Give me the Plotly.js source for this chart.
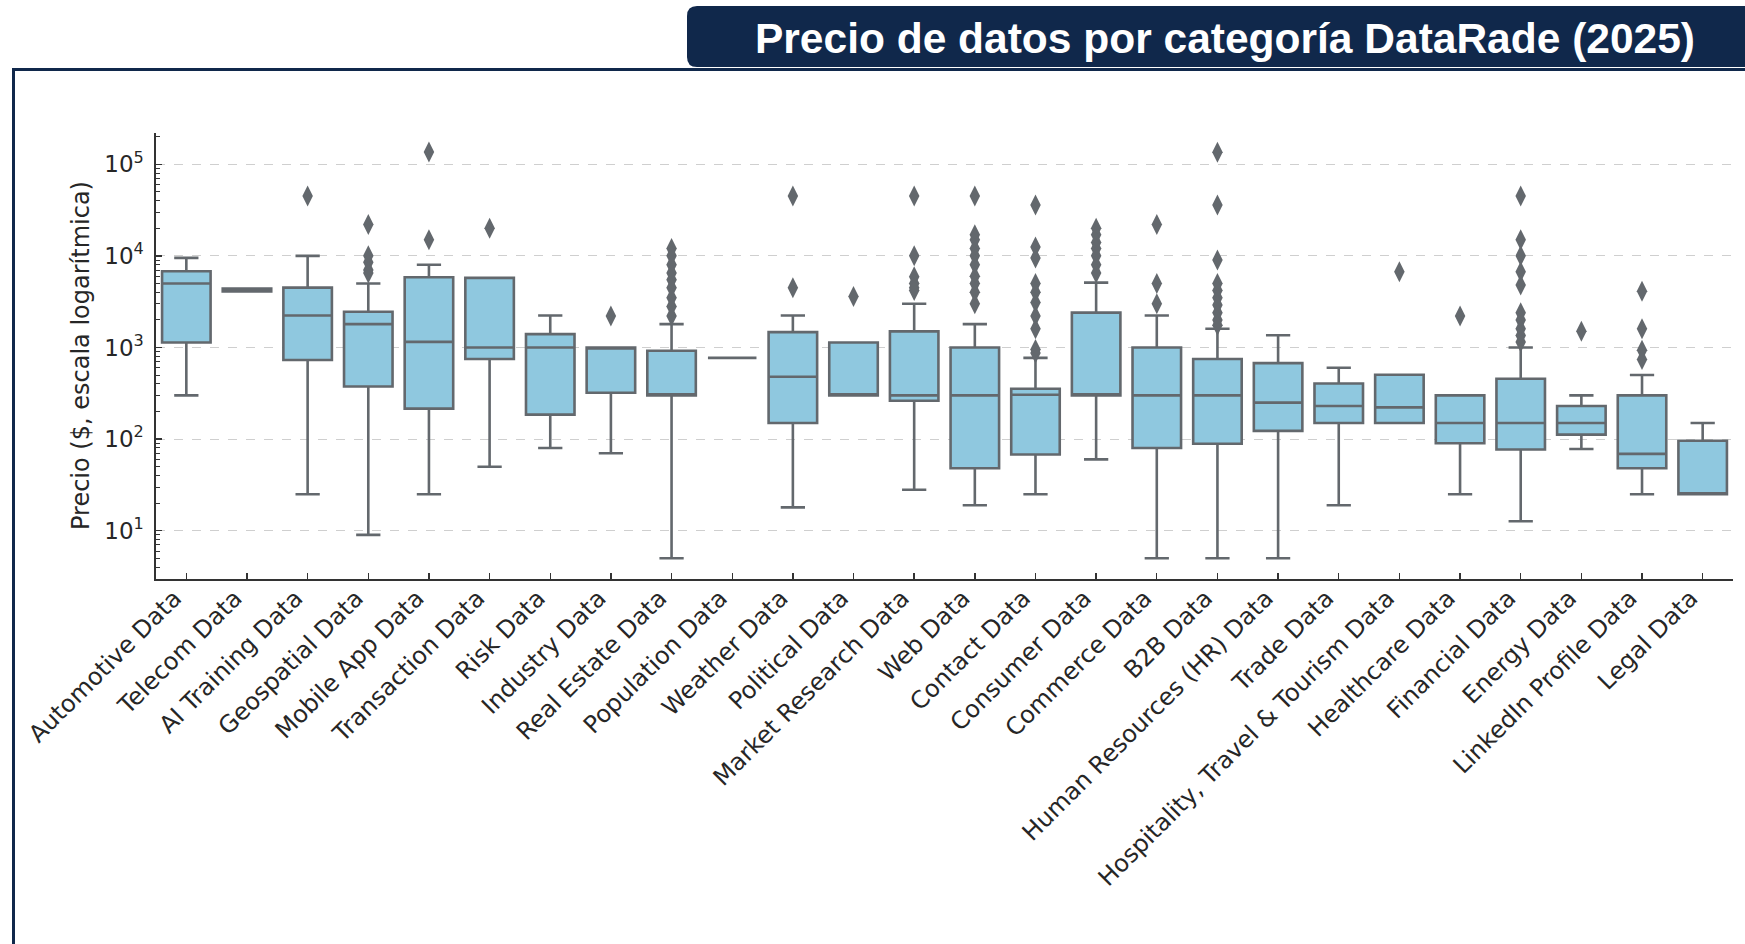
<!DOCTYPE html>
<html>
<head>
<meta charset="utf-8">
<script src="https://cdn.plot.ly/plotly-3.0.1.min.js"></script>
<style>
html, body { margin: 0; padding: 0; background: #ffffff; }
#chart { width: 1745px; height: 944px; }
</style>
</head>
<body>
<div id="chart"></div>
<script>
// ---- Data ----
const categories = [
  "Automotive Data", "Telecom Data", "AI Training Data", "Geospatial Data",
  "Mobile App Data", "Transaction Data", "Risk Data", "Industry Data",
  "Real Estate Data", "Population Data", "Weather Data", "Political Data",
  "Market Research Data", "Web Data", "Contact Data", "Consumer Data",
  "Commerce Data", "B2B Data", "Human Resources (HR) Data", "Trade Data",
  "Hospitality, Travel & Tourism Data", "Healthcare Data", "Financial Data",
  "Energy Data", "LinkedIn Profile Data", "Legal Data"
];
const lowerWhisker = [300, 4100, 25, 9, 25, 50, 80, 70, 5, 770, 18, 300, 28, 19, 25, 60, 5, 5, 5, 19, 150, 25, 12.7, 78, 25, 25];
const q1Values     = [1135, 4100, 730, 375, 215, 750, 185, 320, 300, 770, 150, 300, 262, 48, 68, 300, 80, 89, 123, 150, 150, 90, 77, 112, 48, 25];
const medianValues = [5000, 4250, 2230, 1800, 1150, 1000, 1000, 1000, 300, 770, 480, 300, 300, 300, 305, 300, 300, 300, 250, 230, 222, 150, 150, 150, 69, 25];
const q3Values     = [6800, 4400, 4500, 2450, 5850, 5750, 1400, 1000, 920, 770, 1470, 1135, 1500, 1000, 355, 2400, 1000, 750, 675, 405, 503, 300, 455, 230, 300, 96];
const upperWhisker = [9500, 4400, 10000, 5000, 8000, 5750, 2230, 1000, 1800, 770, 2230, 1135, 3000, 1800, 770, 5100, 2230, 1600, 1360, 600, 503, 300, 1000, 300, 500, 150];
const outlierValues = [
  [],
  [],
  [45000],
  [22000, 10000, 8500, 7000, 6500],
  [136000, 15000],
  [20000],
  [],
  [2200],
  [12000, 10000, 8000, 6500, 5500, 4500, 3500, 2800, 2200],
  [],
  [45000, 4500],
  [3600],
  [45000, 10000, 5900, 5000, 4500, 4200],
  [45000, 17000, 15000, 12000, 10000, 8000, 6000, 5000, 4000, 3000],
  [36000, 12500, 9500, 5000, 4000, 3100, 2200, 1600, 950, 870],
  [20000, 17000, 14000, 12000, 10000, 8000, 6500],
  [22000, 5000, 3000],
  [135000, 36000, 9000, 5000, 4200, 3500, 2900, 2400, 2000, 1750],
  [],
  [],
  [6700],
  [2200],
  [45000, 15000, 10000, 6700, 4800, 2400, 2000, 1600, 1350, 1150],
  [1500],
  [4100, 1600, 930, 740],
  []
];
const yTickValues = [10, 100, 1000, 10000, 100000];
const yTickLabels = ["10<sup>1</sup>", "10<sup>2</sup>", "10<sup>3</sup>", "10<sup>4</sup>", "10<sup>5</sup>"];
const chartTitle = "Precio de datos por categoría DataRade (2025)";
const yTitle = "Precio ($, escala logarítmica)";

// ---- Build traces ----
const outX = [], outY = [];
outlierValues.forEach((vals, i) => vals.forEach(v => { outX.push(categories[i]); outY.push(v); }));

const lineGray = "#63686d";
const boxTrace = {
  type: "box",
  orientation: "v",
  x: categories,
  q1: q1Values,
  median: medianValues,
  q3: q3Values,
  lowerfence: lowerWhisker,
  upperfence: upperWhisker,
  boxpoints: false,
  width: 0.8,
  whiskerwidth: 0.5,
  fillcolor: "#8fc8df",
  line: { color: lineGray, width: 2.6 },
  hoverinfo: "skip",
  showlegend: false
};
const outlierTrace = {
  type: "scatter",
  mode: "markers",
  x: outX,
  y: outY,
  marker: { symbol: "diamond-tall", size: 15, color: lineGray, line: { width: 0 } },
  hoverinfo: "skip",
  showlegend: false
};

// ---- Layout geometry (pixels) ----
const FIG_W = 1745, FIG_H = 944;
const PL = 156, PR = 1733, PT = 133, PB = 579;
const px2x = px => (px - PL) / (PR - PL);
const py2y = py => (PB - py) / (PB - PT);

// Banner (rounded on the left side)
const bL = 687, bR = 1760, bT = 6, bB = 67, r = 10;
const bannerPath =
  "M " + px2x(bR) + "," + py2y(bT) +
  " L " + px2x(bL + r) + "," + py2y(bT) +
  " Q " + px2x(bL) + "," + py2y(bT) + " " + px2x(bL) + "," + py2y(bT + r) +
  " L " + px2x(bL) + "," + py2y(bB - r) +
  " Q " + px2x(bL) + "," + py2y(bB) + " " + px2x(bL + r) + "," + py2y(bB) +
  " L " + px2x(bR) + "," + py2y(bB) + " Z";

const navy = "#10284b";
const textColor = "#262626";

const layout = {
  width: FIG_W,
  height: FIG_H,
  paper_bgcolor: "#ffffff",
  plot_bgcolor: "#ffffff",
  margin: { l: PL, r: FIG_W - PR, t: PT, b: FIG_H - PB, pad: 0 },
  showlegend: false,
  title: {
    text: chartTitle,
    font: { family: "Liberation Sans, Arial, sans-serif", size: 42.5, color: "#ffffff", weight: 700 },
    xref: "paper", x: px2x(1225), xanchor: "center",
    yref: "container", y: 1 - 38 / FIG_H, yanchor: "middle"
  },
  font: { family: "DejaVu Sans, sans-serif", color: textColor },
  xaxis: {
    type: "category",
    categoryorder: "array",
    categoryarray: categories,
    range: [-0.5, categories.length - 0.5],
    showline: true, linecolor: "#333333", linewidth: 1.6,
    ticks: "inside", ticklen: 6, tickwidth: 1.4, tickcolor: "#333333",
    tickangle: -45,
    ticklabelshift: -12,
    ticklabelstandoff: -6,
    tickfont: { family: "DejaVu Sans, sans-serif", size: 24, color: textColor },
    showgrid: false, zeroline: false, mirror: false
  },
  yaxis: {
    type: "log",
    range: [0.473, 5.341],
    tickmode: "array",
    tickvals: yTickValues,
    ticktext: yTickLabels,
    showline: true, linecolor: "#333333", linewidth: 1.6,
    ticks: "inside", ticklen: 6, tickwidth: 1.4, tickcolor: "#333333",
    minor: { ticks: "inside", ticklen: 4, tickwidth: 1, tickcolor: "#333333", dtick: "D1", showgrid: false },
    tickfont: { family: "DejaVu Sans, sans-serif", size: 23, color: textColor },
    ticklabelstandoff: 6,
    showgrid: true, gridcolor: "#cfcfcf", gridwidth: 1, griddash: "dash",
    zeroline: false
  },
  annotations: [
    { text: yTitle, xref: "paper", yref: "paper", x: px2x(81), y: 0.5,
      xanchor: "center", yanchor: "middle", textangle: -90, showarrow: false,
      font: { family: "DejaVu Sans, sans-serif", size: 24, color: textColor } }
  ],
  shapes: [
    // frame top line
    { type: "line", xref: "paper", yref: "paper", layer: "above",
      x0: px2x(12), x1: px2x(1760), y0: py2y(69.5), y1: py2y(69.5),
      line: { color: navy, width: 3 } },
    // frame left line
    { type: "line", xref: "paper", yref: "paper", layer: "above",
      x0: px2x(13.5), x1: px2x(13.5), y0: py2y(68), y1: py2y(960),
      line: { color: navy, width: 3 } },
    // title banner
    { type: "path", xref: "paper", yref: "paper", layer: "above",
      path: bannerPath, fillcolor: navy, line: { width: 0 } }
  ]
};

Plotly.newPlot("chart", [boxTrace, outlierTrace], layout, { displayModeBar: false, staticPlot: true });
</script>
</body>
</html>
